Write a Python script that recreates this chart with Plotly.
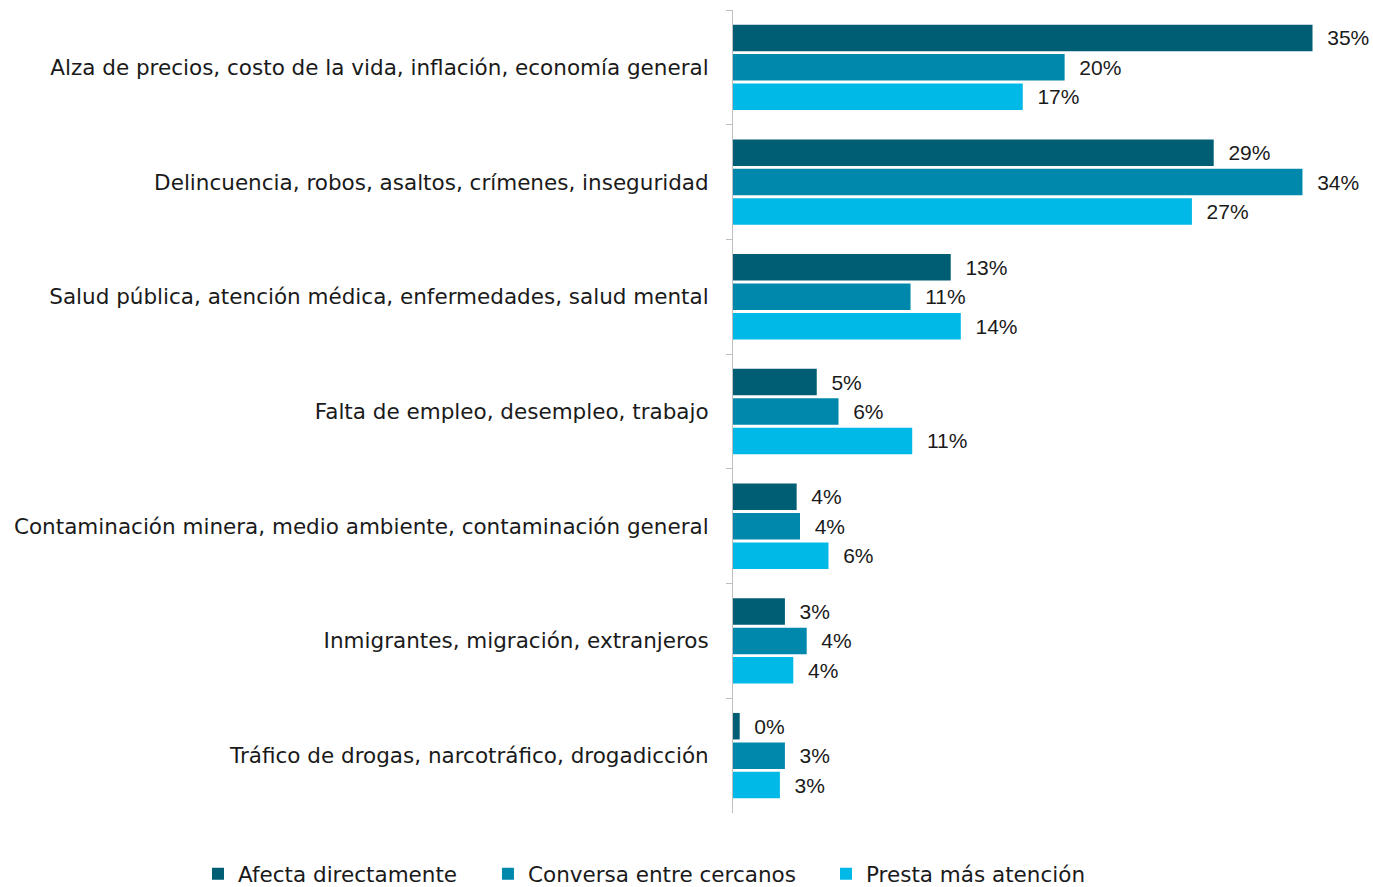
import plotly.graph_objects as go

categories = [
    "Alza de precios, costo de la vida, inflación, economía general",
    "Delincuencia, robos, asaltos, crímenes, inseguridad",
    "Salud pública, atención médica, enfermedades, salud mental",
    "Falta de empleo, desempleo, trabajo",
    "Contaminación minera, medio ambiente, contaminación general",
    "Inmigrantes, migración, extranjeros",
    "Tráfico de drogas, narcotráfico, drogadicción",
]
afecta = [34.6, 28.7, 13.0, 5.0, 3.8, 3.1, 0.4]
conversa = [19.8, 34.0, 10.6, 6.3, 4.0, 4.4, 3.1]
presta = [17.3, 27.4, 13.6, 10.7, 5.7, 3.6, 2.8]

series = [
    ("Afecta directamente", afecta, "#005E74", "legend", 0.1442),
    ("Conversa entre cercanos", conversa, "#0088AC", "legend2", 0.3554),
    ("Presta más atención", presta, "#00B9E7", "legend3", 0.6016),
]

fig = go.Figure()
for name, vals, color, leg, _ in series:
    fig.add_trace(go.Bar(
        y=categories,
        x=vals,
        name=name,
        orientation="h",
        marker=dict(color=color, line=dict(width=0)),
        texttemplate="  %{x:.0f}%",
        textposition="outside",
        textfont=dict(family="Liberation Sans", size=21, color="#1a1a1a"),
        cliponaxis=False,
        legend=leg,
        showlegend=True,
    ))

legends = {}
for name, vals, color, leg, lx in series:
    legends[leg] = dict(
        orientation="h",
        xref="container",
        yref="container",
        x=lx,
        xanchor="left",
        y=0.015,
        yanchor="middle",
        font=dict(size=21.5),
        bgcolor="rgba(0,0,0,0)",
    )

fig.update_layout(
    showlegend=True,
    barmode="group",
    bargap=0.23,
    bargroupgap=0.1,
    width=1373,
    height=887,
    paper_bgcolor="white",
    plot_bgcolor="white",
    font=dict(family="DejaVu Sans", size=21.5, color="#1a1a1a"),
    margin=dict(l=733, r=30, t=10, b=74, autoexpand=False),
    xaxis=dict(
        range=[0, 36.42],
        visible=False,
    ),
    yaxis=dict(
        autorange="reversed",
        showline=True,
        linecolor="#bfbfbf",
        linewidth=1,
        ticks="outside",
        tickson="boundaries",
        ticklen=6,
        tickcolor="#bfbfbf",
        showgrid=False,
        ticklabelstandoff=19,
        automargin=False,
    ),
    **legends,
)

# page has a default body margin; drop it so the figure fills the window
fig.write_html(
    "out.html",
    config={"displayModeBar": False},
    post_script="document.body.style.margin='0';",
)
